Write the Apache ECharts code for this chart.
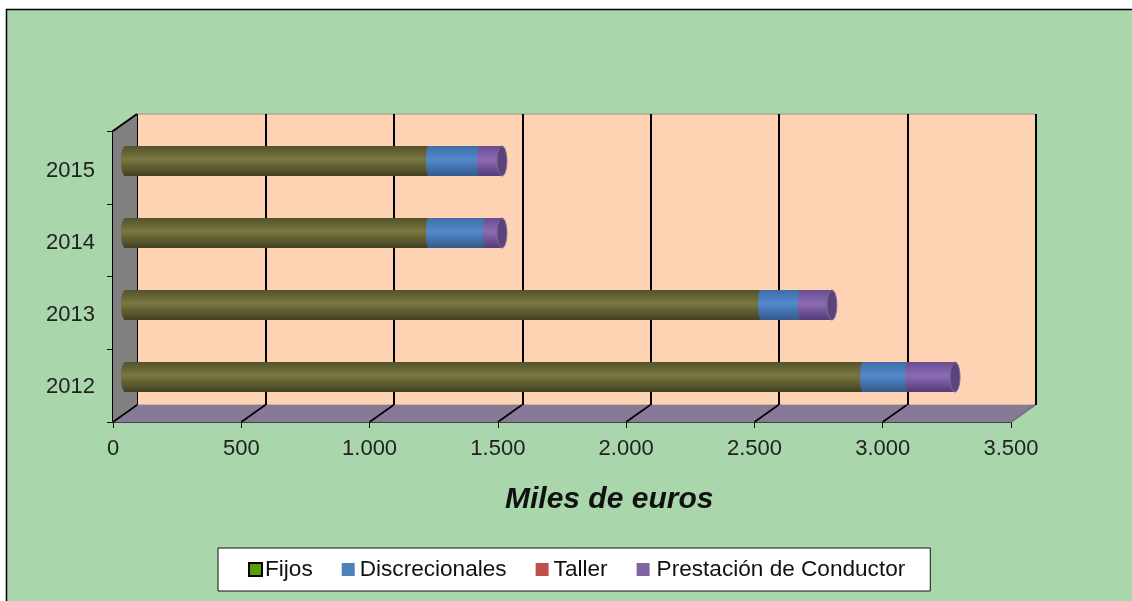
<!DOCTYPE html>
<html><head><meta charset="utf-8">
<style>html,body{margin:0;padding:0;background:#fff}#c{width:1132px;height:601px}</style>
<script src="https://cdn.jsdelivr.net/npm/echarts@6/dist/echarts.min.js"></script>
</head><body><div id="c"></div>
<script>
const years = ['2012','2013','2014','2015'];
const fijos = [2875,2477,1183,1183];
const discrecionales = [175,155,222,198];
const taller = [0,0,0,0];
const prestacion = [185,123,64,88];
const xTicks = [0,500,1000,1500,2000,2500,3000,3500];
const seriesNames = ['Fijos','Discrecionales','Taller','Prestación de Conductor'];
const legendColors = ['#5f9a00','#4f81bd','#c0504d','#8064a2'];
const legendTextPad = [-2,0,0,2];
const tubeColors = [
  ['#54522a','#7a7840','#403f20'],
  ['#3f6ea8','#5289cb','#35598c'],
  ['#a03f3c','#c0504d','#8a3836'],
  ['#674d90','#8d6bb3','#523c78']
];
const allValues = [fijos,discrecionales,taller,prestacion];
const DX = 24, DY = 17, CFONT = '"Liberation Sans", Arial, sans-serif';
const fmt = v => v >= 1000 ? Math.floor(v/1000)+'.'+String(v%1000).padStart(3,'0') : String(v);
const grad = c => new echarts.graphic.LinearGradient(0,0,0,1,[
  {offset:0,color:c[0]},{offset:0.45,color:c[1]},{offset:1,color:c[2]}]);

function tubeData(idx){
  return years.map((y,i)=>{
    let s=0; for(let k=0;k<idx;k++) s+=allValues[k][i];
    return [s,s+allValues[idx][i],i];
  });
}
function tube(idx){
  return (params,api)=>{
    const a=api.coord([api.value(0),api.value(2)]);
    const b=api.coord([api.value(1),api.value(2)]);
    const h=api.size([0,1])[1]*30/72;
    if(b[0]-a[0]<0.5) return {type:'group',children:[]};
    const fill=grad(tubeColors[idx]);
    const kids=[];
    kids.push({type:'ellipse',shape:{cx:a[0],cy:a[1],rx:idx===0?4:2.5,ry:h/2},style:{fill}});
    kids.push({type:'rect',shape:{x:a[0],y:a[1]-h/2,width:b[0]-a[0],height:h},style:{fill}});
    if(idx===3){
      kids.push({type:'ellipse',shape:{cx:b[0],cy:b[1],rx:5,ry:h/2},
        style:{fill:'#5a4479',stroke:'#8168a0',lineWidth:1}});
    }
    return {type:'group',children:kids};
  };
}
const chart=echarts.init(document.getElementById('c'),null,{renderer:'canvas'});
chart.setOption({
  animation:false,
  backgroundColor:'#fff',
  textStyle:{fontFamily:CFONT},
  graphic:[{type:'rect',z:-10,silent:true,shape:{x:6.5,y:9.5,width:1140,height:600},
    style:{fill:'#a9d6ab',stroke:'#000',lineWidth:1.5}}],
  title:{text:'Miles de euros',left:505,top:485,padding:0,
    textStyle:{fontFamily:CFONT,fontSize:30,fontWeight:'bold',fontStyle:'italic',color:'#111'}},
  legend:{
    left:218,top:548,padding:[10,25,10,30],itemGap:29,itemWidth:13,itemHeight:13,
    backgroundColor:'#fff',borderColor:'#111',borderWidth:1,
    textStyle:{fontFamily:CFONT,fontSize:22.6,color:'#111'},
    data:seriesNames.map((n,i)=>({name:n,icon:'rect',
      textStyle:{fontFamily:CFONT,fontSize:22.6,color:'#111',padding:[0,0,0,legendTextPad[i]]},
      itemStyle:i===0?{color:legendColors[i],borderColor:'#000',borderWidth:2}:{color:legendColors[i],borderWidth:0}}))
  },
  grid:[
    {left:113,width:898,top:131,height:291},
    {left:137,width:899,top:114,height:291,show:true,backgroundColor:'#fdd3b4',borderColor:'#9c948c',borderWidth:1},
    {left:125,width:898,top:125,height:288},
    {left:113,width:898,top:134.5,height:288}
  ],
  xAxis:[
    {gridIndex:0,type:'value',min:0,max:3500,interval:500,splitLine:{show:false},
      axisLine:{show:true,onZero:false,lineStyle:{color:'#444',width:2}},
      axisTick:{show:true,length:6,lineStyle:{color:'#111'}},
      axisLabel:{formatter:fmt,fontFamily:CFONT,fontSize:22,color:'#222',margin:16}},
    {gridIndex:1,type:'value',min:0,max:3500,interval:500,
      axisLine:{show:false},axisTick:{show:false},axisLabel:{show:false},
      splitLine:{show:true,lineStyle:{color:'#000',width:2}}},
    {gridIndex:2,type:'value',min:0,max:3500,interval:500,show:false,splitLine:{show:false}},
    {gridIndex:3,type:'value',min:0,max:3500,interval:500,show:false,splitLine:{show:false}}
  ],
  yAxis:[
    {gridIndex:0,type:'category',data:years,
      axisLine:{show:true,lineStyle:{color:'#000',width:2}},
      axisTick:{show:true,length:6,lineStyle:{color:'#111'}},
      axisLabel:{show:false}},
    {gridIndex:1,type:'category',data:years,show:false},
    {gridIndex:2,type:'category',data:years,show:false},
    {gridIndex:3,type:'category',data:years,
      axisLine:{show:false},axisTick:{show:false},
      axisLabel:{fontFamily:CFONT,fontSize:22,color:'#222',margin:18}}
  ],
  series:[
    {type:'custom',name:'walls',xAxisIndex:0,yAxisIndex:0,z:1,silent:true,data:[[0]],
      renderItem:(p,api)=>{
        const g=p.coordSys;
        return {type:'group',children:[
          {type:'polygon',shape:{points:[[g.x,g.y],[g.x+DX,g.y-DY],[g.x+DX,g.y+g.height-DY],[g.x,g.y+g.height]]},
            style:{fill:'#808080'}},
          {type:'polygon',shape:{points:[[g.x,g.y+g.height],[g.x+g.width,g.y+g.height],[g.x+g.width+DX,g.y+g.height-DY],[g.x+DX,g.y+g.height-DY]]},
            style:{fill:'#867a97'}},
          {type:'line',shape:{x1:g.x,y1:g.y,x2:g.x+DX,y2:g.y-DY},style:{stroke:'#000',lineWidth:2}}
        ]};
      }},
    {type:'custom',name:'floorLines',xAxisIndex:0,yAxisIndex:0,z:2,silent:true,data:xTicks.map(v=>[v]),
      renderItem:(p,api)=>{
        const g=p.coordSys, v=api.value(0), x=api.coord([v,0])[0], y=g.y+g.height;
        return {type:'line',shape:{x1:x,y1:y,x2:x+DX,y2:y-DY},
          style:{stroke:v===3500?'#77707f':'#000',lineWidth:1.6}};
      }},
    ...seriesNames.map((n,i)=>({
      type:'custom',name:n,xAxisIndex:2,yAxisIndex:2,z:5+i,clip:false,
      itemStyle:{color:legendColors[i]},
      encode:{x:[0,1],y:2},
      data:tubeData(i),renderItem:tube(i)
    }))
  ]
});
</script></body></html>
